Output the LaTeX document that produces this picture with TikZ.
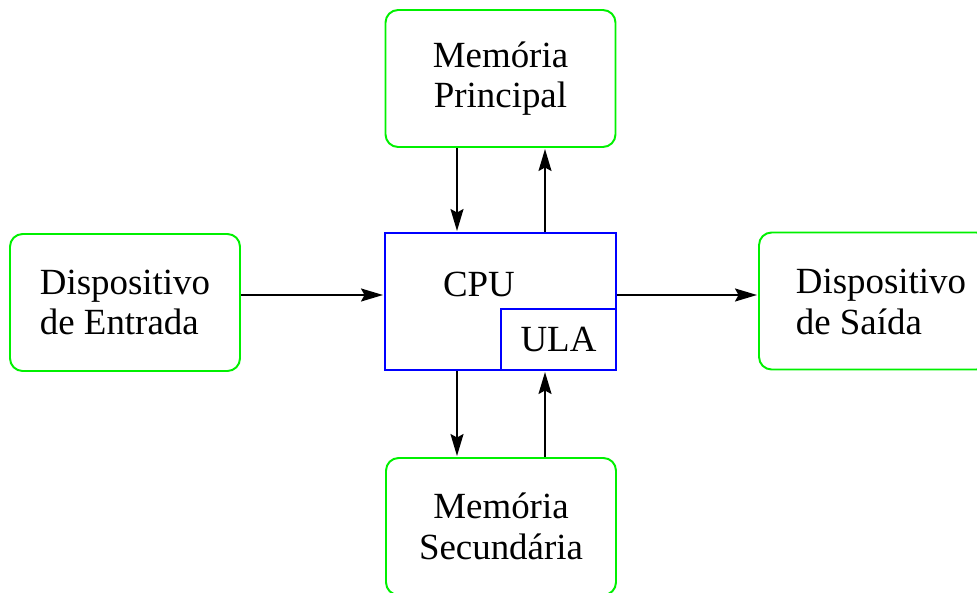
\documentclass[tikz,border=0pt]{standalone}
\usepackage{fontspec}
\setmainfont{Liberation Serif}
\usetikzlibrary{arrows.meta}

\begin{document}
\begin{tikzpicture}[x=0.02cm, y=-0.02cm,
  every node/.style={font=\fontsize{21}{23}\selectfont},
  unitbox/.style={draw=green!90!black!60!green, line width=1.1pt, rounded corners=0.25cm,
    minimum width=4.6cm, minimum height=2.74cm, inner sep=0pt, align=center},
  cpubox/.style={draw=blue, line width=1.1pt, inner sep=0pt},
  seta/.style={-{Stealth[length=4.4mm,width=2.6mm,inset=0.7mm]}, line width=1pt, shorten >=0.6pt}]

\clip (0,0) rectangle (977,592);

% unidades
\node[unitbox] (mp) at (500.5,78.5) {Memória\\Principal};
\node[unitbox] (ms) at (501,526.5) {Memória\\Secundária};
\node[unitbox, align=left] (entrada) at (125,302.5) {Dispositivo\\de Entrada};
\node[unitbox] (saida) at (874,301)
  {\hspace*{0.28cm}\begin{tabular}{@{}l@{}}\rule{0pt}{21.7pt}Dispositivo\\de Saída\end{tabular}};

% CPU e ULA
\node[cpubox, minimum width=4.62cm, minimum height=2.74cm] (cpu) at (500.5,301.5) {};
\node (cputxt) at (479,284) {CPU};
\node[cpubox, minimum width=2.3cm, minimum height=1.22cm] (ula) at (558.5,339.5) {ULA};

\coordinate (xesq) at (457,0);
\coordinate (xdir) at (545,0);
\coordinate (ymeio) at (0,295);

% ligacoes
\draw[seta] (mp.south -| xesq) -- (cpu.north -| xesq);
\draw[seta] (cpu.north -| xdir) -- (mp.south -| xdir);
\draw[seta] (cpu.south -| xesq) -- (ms.north -| xesq);
\draw[seta] (ms.north -| xdir) -- (ula.south -| xdir);
\draw[seta] (entrada.east |- ymeio) -- (cpu.west |- ymeio);
\draw[seta] (cpu.east |- ymeio) -- (saida.west |- ymeio);

\end{tikzpicture}
\end{document}
